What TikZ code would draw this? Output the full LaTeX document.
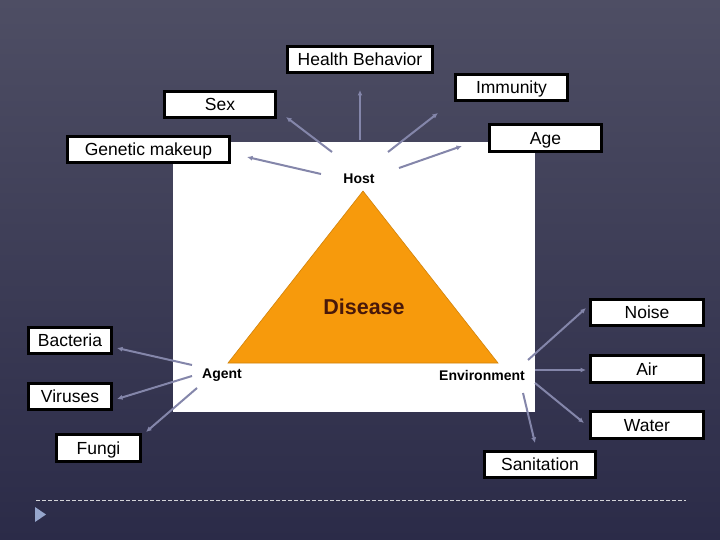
\documentclass[tikz,border=0pt]{standalone}
\usepackage{fontspec}
\setmainfont{Liberation Sans}
\usetikzlibrary{arrows.meta}
\definecolor{slidetop}{RGB}{78,78,100}
\definecolor{slidebottom}{RGB}{43,43,72}
\definecolor{triorange}{RGB}{247,154,12}
\definecolor{linkgray}{RGB}{132,134,170}
\definecolor{diseasebrown}{RGB}{72,24,10}
\definecolor{bulletblue}{RGB}{150,166,204}

\begin{document}
\begin{tikzpicture}[x=1pt, y=-1pt,
  factor/.style={draw=black, line width=2.6pt, fill=white, inner sep=0pt,
    minimum height=26.5pt, text height=13.5pt, text depth=1pt,
    font=\fontsize{17.5}{20}\selectfont},
  corner/.style={font=\bfseries\fontsize{14}{16}\selectfont},
  link/.style={draw=linkgray, line width=2pt, -{Latex[length=5.5pt,width=5pt]}}]
  \useasboundingbox (0,0) rectangle (720,540);

  % ===== Slide background =====
  \shade[top color=slidetop, bottom color=slidebottom] (0,0) rectangle (720,540);
  \draw[white!75!slidetop, line width=1pt, dash pattern=on 4pt off 2pt] (36,500) -- (686,500);
  \fill[bulletblue] (35,507) -- (46,514.5) -- (35,522) -- cycle;

  % ===== Epidemiological triangle =====
  \fill[white] (173,142) rectangle (535,412);
  \draw[fill=triorange, draw=triorange!85!black, line width=0.6pt]
    (363,191) -- (498,363) -- (228,363) -- cycle;
  \node[font=\bfseries\fontsize{21.5}{24}\selectfont, text=diseasebrown] (disease) at (364,307) {Disease};
  \node[corner] (host) at (359,179) {Host};
  \node[corner] (agent) at (222,375) {Agent};
  \node[corner] (env) at (482,375) {Environment};

  % ===== Host factors =====
  \node[factor, minimum width=145.5pt] (health) at (360,59.5) {Health Behavior};
  \node[factor, minimum width=112.5pt] (immunity) at (511.5,87.5) {Immunity};
  \node[factor, minimum width=111.5pt] (sex) at (220,104.5) {Sex};
  \node[factor, minimum width=112.5pt] (age) at (545.5,138) {Age};
  \node[factor, minimum width=162.5pt] (genetic) at (148.5,149.5) {Genetic makeup};

  % ===== Agent factors =====
  \node[factor, minimum width=83.5pt] (bacteria) at (70,340.5) {Bacteria};
  \node[factor, minimum width=83.5pt] (viruses) at (70,396.5) {Viruses};
  \node[factor, minimum width=84.5pt] (fungi) at (98.5,448) {Fungi};

  % ===== Environment factors =====
  \node[factor, minimum width=113.5pt] (noise) at (647,312.5) {Noise};
  \node[factor, minimum width=113.5pt] (air) at (647,369) {Air};
  \node[factor, minimum width=113.5pt] (water) at (647,425) {Water};
  \node[factor, minimum width=111.5pt] (sanitation) at (540,464.5) {Sanitation};

  % ===== Connectors =====
  \draw[link] ([shift={(1,-39)}]host.center) -- ([shift={(0,30.5)}]health.center);
  \draw[link] ([shift={(-27,-27)}]host.center) -- ([shift={(66,12.5)}]sex.center);
  \draw[link] ([shift={(29,-27)}]host.center) -- ([shift={(-73.5,25.5)}]immunity.center);
  \draw[link] ([shift={(40,-11)}]host.center) -- ([shift={(-83.5,8)}]age.center);
  \draw[link] ([shift={(-38,-5)}]host.center) -- ([shift={(98.5,7.5)}]genetic.center);

  \draw[link] ([shift={(-30,-10)}]agent.center) -- ([shift={(47,7.5)}]bacteria.center);
  \draw[link] ([shift={(-30,1)}]agent.center) -- ([shift={(47,2.5)}]viruses.center);
  \draw[link] ([shift={(-25,13)}]agent.center) -- ([shift={(47.5,-16)}]fungi.center);

  \draw[link] ([shift={(46,-15)}]env.center) -- ([shift={(-61,-4.5)}]noise.center);
  \draw[link] ([shift={(53,-5)}]env.center) -- ([shift={(-61,1)}]air.center);
  \draw[link] ([shift={(53,8)}]env.center) -- ([shift={(-63,-2)}]water.center);
  \draw[link] ([shift={(41,18)}]env.center) -- ([shift={(-5,-21.5)}]sanitation.center);
\end{tikzpicture}
\end{document}
